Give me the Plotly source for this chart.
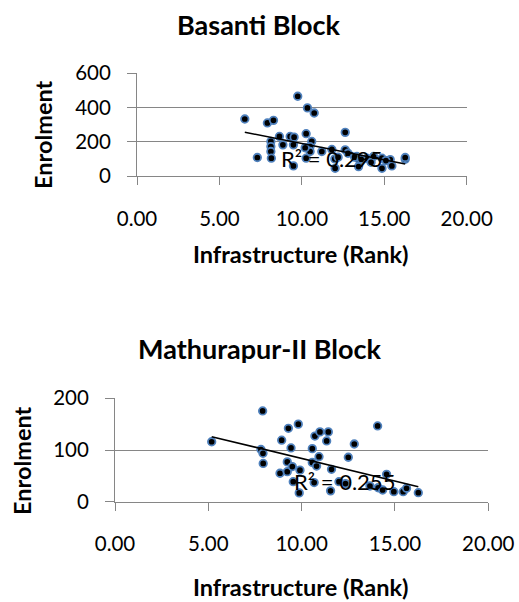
import plotly.graph_objects as go

# ---------------- data ----------------
basanti_x = [6.54, 7.30, 7.91, 8.28, 8.12, 8.12, 8.12, 8.15, 8.64, 8.85,
             9.29, 9.53, 9.49, 9.49, 9.75, 10.34, 10.75, 10.26, 10.60, 10.50,
             10.50, 10.26, 10.20, 11.21, 11.82, 12.02, 12.00, 12.63, 12.63, 12.80,
             13.34, 13.44, 13.44, 13.94, 14.35, 14.86, 14.86, 15.36, 15.46, 16.27,
             16.27, 12.20, 13.20, 13.60, 14.20, 15.10]
basanti_y = [333, 108, 310, 325, 202, 172, 143, 104, 231, 182,
             231, 227, 182, 59, 466, 398, 368, 247, 202, 172,
             143, 104, 165, 143, 155, 45, 100, 255, 153, 133,
             114, 55, 100, 104, 114, 45, 104, 96, 59, 98,
             108, 110, 110, 98, 80, 90]
basanti_trend = [379.6, -19.0]      # intercept, slope (linear trendline)
basanti_r2 = "0.295"

mathura_x = [5.18, 7.91, 7.82, 7.93, 7.94, 8.84, 8.93, 9.29, 9.82, 9.43,
             9.23, 9.23, 9.50, 9.55, 9.91, 9.87, 10.57, 10.71, 10.98, 11.43,
             11.34, 10.93, 10.57, 10.80, 10.67, 11.60, 11.55, 12.00, 12.50, 12.82,
             12.35, 14.07, 13.66, 14.10, 14.34, 14.55, 14.94, 15.44, 15.62, 16.25]
mathura_y = [116, 175.5, 101, 93.6, 74, 55, 119, 142, 150, 104,
             77, 58, 68, 38.7, 61, 17, 102.6, 127, 135, 135,
             117.5, 87, 76, 69, 37, 62.7, 21, 38.7, 86, 111.6,
             35, 146.5, 30.4, 27, 22.6, 53, 19.4, 19.4, 26, 17.4]
mathura_trend = [171.1, -8.74]
mathura_r2 = "0.255"

titles = ["Basanti Block", "Mathurapur-II Block"]
x_title = "Infrastructure (Rank)"
y_title = "Enrolment"
x_ticks = [0, 5, 10, 15, 20]
y_ticks_top = [0, 200, 400, 600]
y_ticks_bot = [0, 100, 200]

# ---------------- styling ----------------
W, H = 519, 602
FONT = "Lato"
GRID = "#868686"
MARK_FILL = "black"
MARK_LINE = "#4F81BD"

def px(v):
    return v / W

def py(v):
    return 1 - v / H

fig = go.Figure()

def add_panel(xs, ys, trend, xa, ya):
    fig.add_trace(go.Scatter(
        x=xs, y=ys, mode="markers", xaxis=xa, yaxis=ya,
        marker=dict(size=7.5, color=MARK_FILL, line=dict(color=MARK_LINE, width=1.8)),
        showlegend=False, hoverinfo="skip", cliponaxis=False))
    x0, x1 = min(xs), max(xs)
    fig.add_trace(go.Scatter(
        x=[x0, x1], y=[trend[0] + trend[1] * x0, trend[0] + trend[1] * x1],
        mode="lines", xaxis=xa, yaxis=ya,
        line=dict(color="black", width=1.5),
        showlegend=False, hoverinfo="skip"))

add_panel(basanti_x, basanti_y, basanti_trend, "x", "y")
add_panel(mathura_x, mathura_y, mathura_trend, "x2", "y2")

tickfont = dict(family=FONT, size=20.5, color="black")

def xaxis_cfg(dom, anchor):
    return dict(domain=dom, anchor=anchor, range=[0, 20], tickvals=x_ticks,
                tickformat=".2f", ticks="outside", ticklen=8, tickcolor=GRID,
                tickwidth=1, showline=True, linecolor=GRID, linewidth=1,
                showgrid=False, zeroline=False, tickfont=tickfont,
                ticklabelstandoff=16, automargin=False, fixedrange=True)

def yaxis_cfg(dom, anchor, rng, vals):
    return dict(domain=dom, anchor=anchor, range=rng, tickvals=vals,
                ticks="outside", ticklen=9, tickcolor=GRID, tickwidth=1,
                showline=True, linecolor=GRID, linewidth=1,
                showgrid=True, gridcolor=GRID, gridwidth=1, zeroline=False,
                tickfont=tickfont, ticklabelstandoff=12, automargin=False,
                fixedrange=True)

fig.update_layout(
    width=W, height=H,
    margin=dict(l=0, r=0, t=0, b=0, pad=0, autoexpand=False),
    paper_bgcolor="white", plot_bgcolor="white",
    font=dict(family=FONT, color="black"),
    xaxis=xaxis_cfg([px(137), px(466.7)], "y"),
    yaxis=yaxis_cfg([py(176), py(73.3)], "x", [0, 600], y_ticks_top),
    xaxis2=xaxis_cfg([px(115), px(488.3)], "y2"),
    yaxis2=yaxis_cfg([py(501.7), py(398.3)], "x2", [0, 200], y_ticks_bot),
)

ann = []
title_font = dict(family=FONT, size=27, color="black")
axt_font = dict(family=FONT, size=23.5, color="black")
for t, (cx, cy) in zip(titles, [(258.5, 25), (259.5, 348)]):
    ann.append(dict(text="<b>%s</b>" % t, x=px(cx), y=py(cy), xref="paper", yref="paper",
                    xanchor="center", yanchor="middle", showarrow=False, font=title_font))
for cx, cy in [(300, 254), (300, 587)]:
    ann.append(dict(text="<b>%s</b>" % x_title, x=px(cx), y=py(cy), xref="paper", yref="paper",
                    xanchor="center", yanchor="middle", showarrow=False, font=axt_font))
for cx, cy in [(43, 135), (22, 461)]:
    ann.append(dict(text="<b>%s</b>" % y_title, x=px(cx), y=py(cy), xref="paper", yref="paper",
                    xanchor="center", yanchor="middle", showarrow=False, font=axt_font,
                    textangle=-90))
ann.append(dict(text="R² = " + basanti_r2, x=11.77, y=104, xref="x", yref="y",
                xanchor="center", yanchor="middle", showarrow=False,
                font=dict(family=FONT, size=22, color="black")))
ann.append(dict(text="R² = " + mathura_r2, x=12.32, y=38.7, xref="x2", yref="y2",
                xanchor="center", yanchor="middle", showarrow=False,
                font=dict(family=FONT, size=22, color="black")))
fig.update_layout(annotations=ann)

fig.write_html("out.html", config={"displayModeBar": False},
               post_script="document.body.style.margin='0';document.body.style.overflow='hidden';")
